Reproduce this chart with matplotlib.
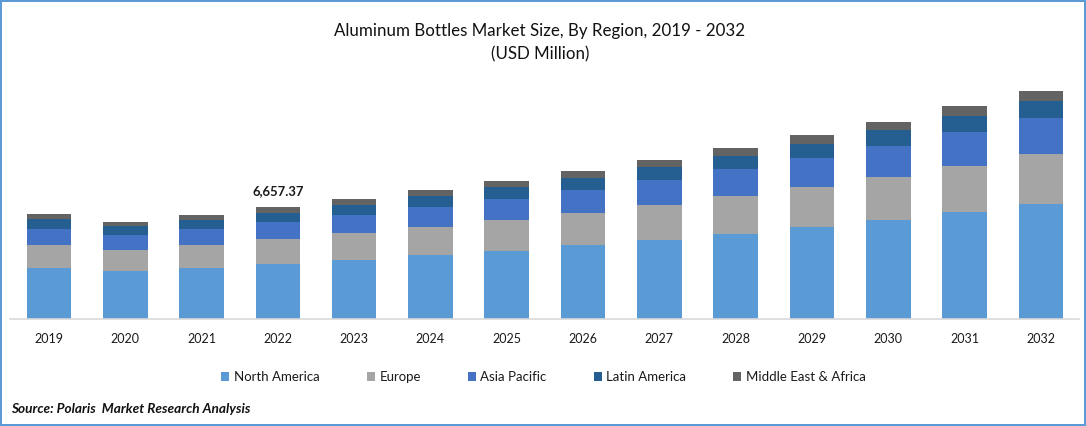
import matplotlib
matplotlib.use("Agg")
import matplotlib.pyplot as plt
import numpy as np
from matplotlib.patches import Rectangle

# values in USD million
years = ["2019", "2020", "2021", "2022", "2023", "2024", "2025", "2026", "2027", "2028", "2029", "2030", "2031", "2032"]
north_america = [3030, 2850, 3030, 3270, 3505, 3800, 4040, 4395, 4690, 5050, 5465, 5880, 6355, 6830]
europe = [1365, 1250, 1365, 1485, 1605, 1665, 1840, 1900, 2080, 2255, 2375, 2555, 2730, 2970]
asia_pacific = [950, 890, 950, 1010, 1070, 1190, 1250, 1365, 1485, 1605, 1720, 1840, 2020, 2140]
latin_america = [595, 535, 535, 535, 595, 655, 715, 715, 770, 770, 830, 950, 950, 1010]
middle_east_africa = [297, 238, 297, 357, 357, 357, 357, 415, 415, 475, 535, 475, 595, 595]
series_names = ["North America", "Europe", "Asia Pacific", "Latin America", "Middle East & Africa"]
colors = ["#5B9BD5", "#A5A5A5", "#4472C4", "#255E91", "#636363"]
label_2022 = "6,657.37"

W, H = 1086, 426
plt.rcParams["font.family"] = ["Lato", "DejaVu Sans"]
fig = plt.figure(figsize=(W / 100, H / 100), dpi=100)

# axes spans the baseline, 10-1079 px across, bottom at y=319
ax = fig.add_axes([10 / W, 1 - 319 / H, (1079 - 10) / W, (319 - 70) / H])
x = np.arange(len(years))
bottom = np.zeros(len(years))
all_series = [north_america, europe, asia_pacific, latin_america, middle_east_africa]
for vals, name, c in zip(all_series, series_names, colors):
    ax.bar(x, vals, bottom=bottom, width=0.585, color=c, label=name, linewidth=0)
    bottom += np.array(vals)

ax.set_xlim(-0.51, 13.5)
ax.set_ylim(0, 249 * 59.44)
ax.set_yticks([])
ax.set_xticks(x)
ax.set_xticklabels(years, fontsize=9, color="#1a1a1a")
ax.tick_params(axis="x", length=0, pad=9.8)
for s in ["top", "left", "right"]:
    ax.spines[s].set_visible(False)
ax.spines["bottom"].set_color("#d9d9d9")
ax.spines["bottom"].set_linewidth(1.2)

ax.text(3, bottom[3] + 600, label_2022, ha="center", va="bottom", fontsize=9.4, fontweight="bold", color="#1a1a1a")

fig.text(540 / W, 1 - 31 / H, "Aluminum Bottles Market Size, By Region, 2019 - 2032", ha="center", va="center", fontsize=12.2, color="#111111")
fig.text(540 / W, 1 - 54 / H, "(USD Million)", ha="center", va="center", fontsize=12.2, color="#111111")

leg = ax.legend(loc="center", bbox_to_anchor=(543.5 / W, 1 - 377 / H), bbox_transform=fig.transFigure,
                ncol=5, frameon=False, fontsize=9.5, handlelength=0.62, handleheight=0.62,
                handletextpad=0.35, columnspacing=3.55, labelcolor="#1a1a1a")

fig.text(11 / W, 1 - 409 / H, "Source: Polaris  Market Research Analysis", ha="left", va="center",
         fontsize=9.8, fontweight="bold", fontstyle="italic", color="#111111")

# blue frame round the picture, 2 px wide
fig.add_artist(Rectangle((1 / W, 1 / H), (W - 2) / W, (H - 2) / H, transform=fig.transFigure, fill=False,
                         edgecolor="#5B9BD5", linewidth=1.44))

fig.savefig("out.png", dpi=100)
